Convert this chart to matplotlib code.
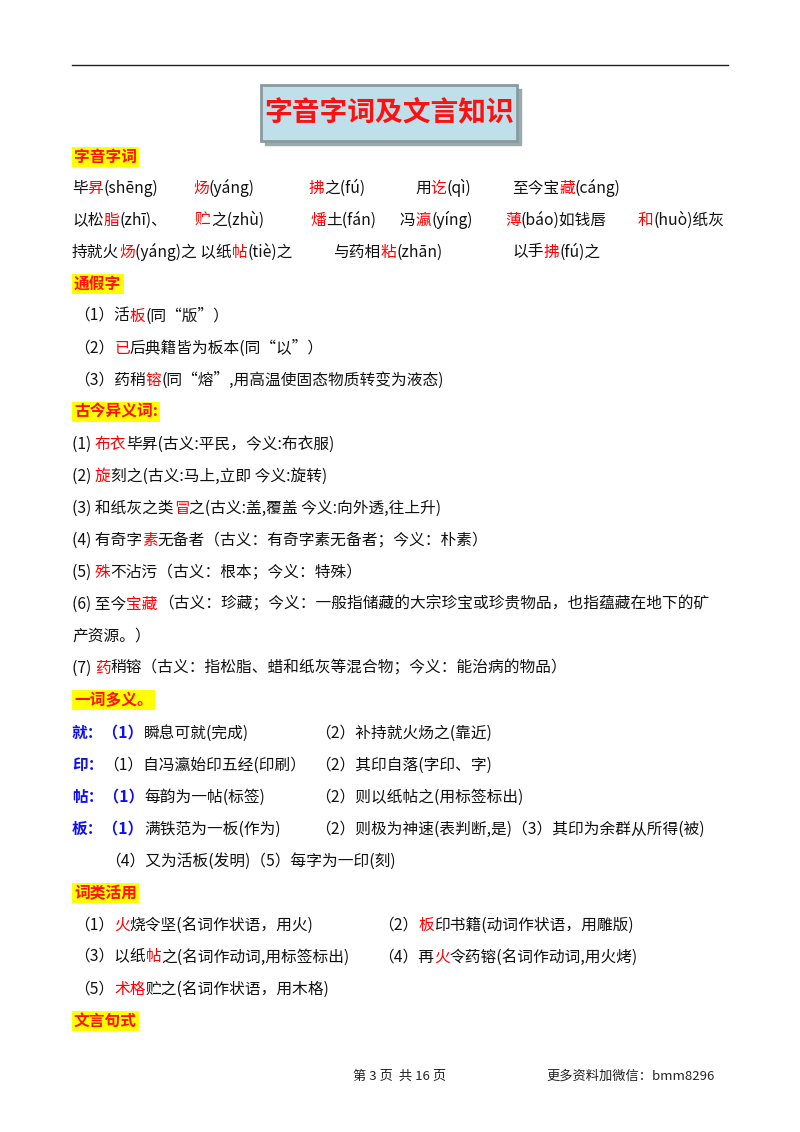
import re
import matplotlib
matplotlib.use("Agg")
import matplotlib.pyplot as plt
from matplotlib.patches import Rectangle

plt.rcParams['font.family'] = ['Noto Sans CJK SC', 'DejaVu Sans']

# markup: {red text}  <blue text>
TITLE = "字音字词及文言知识"
HEADERS = [(157, "字音字词"), (284, "通假字"), (412, "古今异义词:"),
           (700, "一词多义。"), (893, "词类活用"), (1021, "文言句式")]
LINES = [
    (188, [(72, "毕{昇}(shēng)"), (193, "{炀}(yáng)"), (308, "{拂}之(fú)"),
           (415, "用{讫}(qì)"), (512, "至今宝{藏}(cáng)")]),
    (220, [(72, "以松{脂}(zhī)、"), (195, "{贮}之(zhù)"), (310, "{燔}土(fán)"),
           (400, "冯{瀛}(yíng)"), (505, "{薄}(báo)如钱唇"), (638, "{和}(huò)纸灰")]),
    (252, [(72, "持就火{炀}(yáng)之 以纸{帖}(tiè)之"), (333, "与药相{粘}(zhān)"),
           (512, "以手{拂}(fú)之")]),
    (316, [(74, "（1）活{板}(同“版”）")]),
    (348, [(74, "（2）{已}后典籍皆为板本(同“以”）")]),
    (380, [(74, "（3）药稍{镕}(同“熔”,用高温使固态物质转变为液态)")]),
    (444, [(72, "(1) {布衣}毕昇(古义:平民，今义:布衣服)")]),
    (476, [(72, "(2) {旋}刻之(古义:马上,立即 今义:旋转)")]),
    (508, [(72, "(3) 和纸灰之类{冒}之(古义:盖,覆盖 今义:向外透,往上升)")]),
    (540, [(72, "(4) 有奇字{素}无备者（古义：有奇字素无备者；今义：朴素）")]),
    (572, [(72, "(5) {殊}不沾污（古义：根本；今义：特殊）")]),
    (604, [(72, "(6) 至今{宝藏}（古义：珍藏；今义：一般指储藏的大宗珍宝或珍贵物品，也指蕴藏在地下的矿")]),
    (636, [(72, "产资源。）")]),
    (668, [(72, "(7) {药}稍镕（古义：指松脂、蜡和纸灰等混合物；今义：能治病的物品）")]),
    (733, [(72, "<就：（1）>瞬息可就(完成)"), (315, "（2）补持就火炀之(靠近)")]),
    (765, [(72, "<印：>（1）自冯瀛始印五经(印刷）"), (315, "（2）其印自落(字印、字)")]),
    (797, [(72, "<帖：（1）>每韵为一帖(标签)"), (315, "（2）则以纸帖之(用标签标出)")]),
    (829, [(72, "<板：（1）>满铁范为一板(作为)"), (315, "（2）则极为神速(表判断,是)（3）其印为余群从所得(被)")]),
    (861, [(105, "（4）又为活板(发明)（5）每字为一印(刻)")]),
    (925, [(74, "（1）{火}烧令坚(名词作状语，用火)"), (378, "（2）{板}印书籍(动词作状语，用雕版)")]),
    (957, [(74, "（3）以纸{帖}之(名词作动词,用标签标出)"), (378, "（4）再{火}令药镕(名词作动词,用火烤)")]),
    (989, [(74, "（5）{术格}贮之(名词作状语，用木格)")]),
]
FOOTER_L = "第 3 页  共 16 页"
FOOTER_R = "更多资料加微信：bmm8296"

COL = {"k": "#111111", "r": "#ff0000", "b": "#1010ee"}
FS = 11.3


def parse(s):
    out = []
    for tok in re.split(r"(\{[^}]*\}|<[^>]*>)", s):
        if not tok:
            continue
        if tok[0] == "{":
            out.append((tok[1:-1], "r"))
        elif tok[0] == "<":
            out.append((tok[1:-1], "b"))
        else:
            out.append((tok, "k"))
    return out


fig = plt.figure(figsize=(8, 11.32), dpi=100)
ax = fig.add_axes([0, 0, 1, 1])
ax.set_xlim(0, 800)
ax.set_ylim(1132, 0)
ax.axis("off")
renderer = fig.canvas.get_renderer()
inv = ax.transData.inverted()

ax.plot([72, 728], [65, 65], color="#222", lw=1)

# title box with shadow
ax.add_patch(Rectangle((265, 89), 256, 56, color="#9aa", zorder=1))
ax.add_patch(Rectangle((261, 85), 256, 56, facecolor="#bfe0ea", edgecolor="#8a9a9f",
                       lw=2, zorder=2))
ax.text(389, 113, TITLE, color="#ff1010", fontsize=20, fontweight="bold",
        ha="center", va="center", zorder=3)

for y, h in HEADERS:
    ax.text(74, y, h, color="#ff1010", fontsize=FS, fontweight="bold", va="center",
            bbox=dict(boxstyle="square,pad=0.15", facecolor="#ffff00", edgecolor="none"))

for y, chunks in LINES:
    for x0, s in chunks:
        x = x0
        for txt, c in parse(s):
            t = ax.text(x, y, txt, color=COL[c], fontsize=FS, va="center",
                        fontweight="bold" if c == "b" else "normal")
            bb = t.get_window_extent(renderer)
            x = inv.transform((bb.x1, bb.y0))[0]

ax.text(400, 1076, FOOTER_L, fontsize=9.5, ha="center", va="center", color="#222")
ax.text(715, 1076, FOOTER_R, fontsize=9.5, ha="right", va="center", color="#222")

fig.savefig("out.png", dpi=100)
